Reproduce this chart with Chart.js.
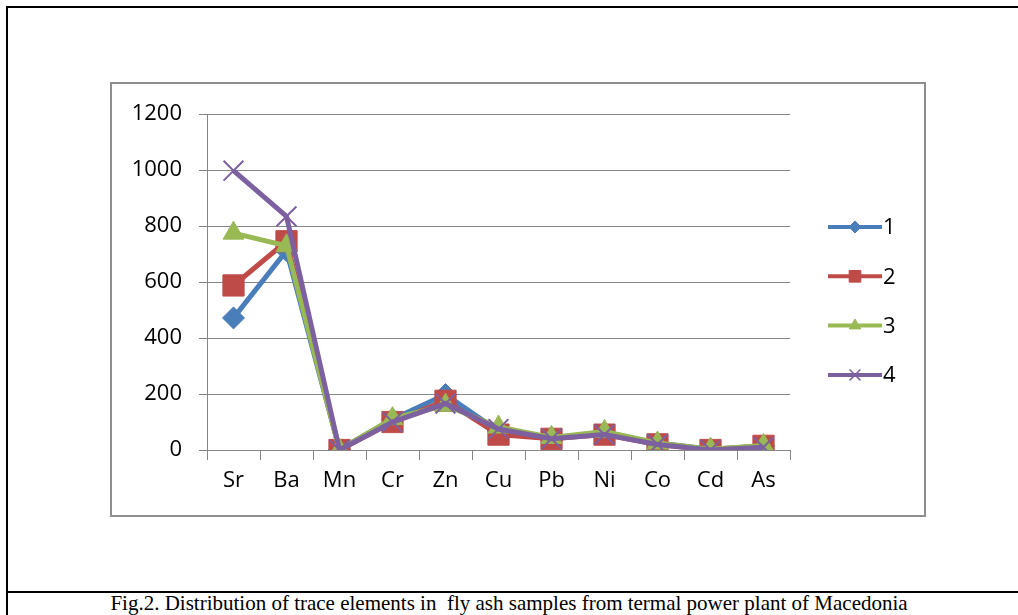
<!DOCTYPE html>
<html>
<head>
<meta charset="utf-8">
<script src="https://cdn.jsdelivr.net/npm/chart.js@4"></script>
<style>
  html, body { margin: 0; padding: 0; background: #fff; }
  body { width: 1018px; height: 615px; position: relative; overflow: hidden; }
  .frame-top { position: absolute; left: 6px; top: 6px; width: 1012px; height: 2px; background: #000; }
  .frame-left { position: absolute; left: 6px; top: 6px; width: 2px; height: 609px; background: #000; }
  .frame-mid { position: absolute; left: 6px; top: 591px; width: 1012px; height: 2px; background: #000; }
  .caption { position: absolute; left: 8px; top: 591px; width: 1002px; text-align: center;
             font-family: "Liberation Serif", "Times New Roman", serif; font-size: 21px; color: #000; white-space: pre; }
  .chart-box { position: absolute; left: 110px; top: 82px; width: 812px; height: 431px;
               border: 2px solid #8e8e8e; background: #fff; }
  canvas { display: block; }
</style>
</head>
<body>
<div class="frame-top"></div>
<div class="frame-left"></div>
<div class="frame-mid"></div>
<div class="chart-box"><canvas id="myChart" width="812" height="431"></canvas></div>
<div class="caption">Fig.2. Distribution of trace elements in  fly ash samples from termal power plant of Macedonia</div>

<script>
// elements on the x axis
const elements = ['Sr', 'Ba', 'Mn', 'Cr', 'Zn', 'Cu', 'Pb', 'Ni', 'Co', 'Cd', 'As'];

// sample values
const sample1 = [472, 712, 2, 110, 198, 68, 45, 60, 25, 3, 14];
const sample2 = [588, 746, 0, 100, 176, 55, 40, 55, 20, 0, 15];
const sample3 = [775, 730, 0, 112, 160, 82, 45, 66, 25, 3, 16];
const sample4 = [998, 835, 0, 100, 166, 75, 40, 55, 20, 0, 10];

const seriesNames = ['1', '2', '3', '4'];
const yTicks = [0, 200, 400, 600, 800, 1000, 1200];

const colors = ['#4a7ebb', '#be4b48', '#98b954', '#7d60a0'];
const markers = ['rectRot', 'rect', 'triangle', 'crossRot'];
const markerSize = [11, 15, 12, 14];

const FONT = '"Open Sans", "Liberation Sans", sans-serif';

const makeSet = (i, data) => ({
  label: seriesNames[i],
  data: data,
  order: 4 - i, // last series drawn on top, like excel
  borderColor: colors[i],
  backgroundColor: colors[i],
  borderWidth: 5,
  pointStyle: markers[i],
  pointRadius: markerSize[i],
  pointBorderWidth: markers[i] === 'crossRot' ? 2 : 1,
  pointBorderColor: colors[i],
  pointBackgroundColor: colors[i],
  tension: 0,
});

// legend like the excel one: short line with marker in the middle
const sideLegend = {
  id: 'sideLegend',
  afterDraw(chart) {
    const ctx = chart.ctx;
    chart.data.datasets.forEach((ds, i) => {
      const y = 143 + i * 49.3;
      ctx.save();
      ctx.strokeStyle = ds.borderColor;
      ctx.fillStyle = ds.backgroundColor;
      ctx.lineWidth = 4;
      ctx.beginPath();
      ctx.moveTo(716, y);
      ctx.lineTo(770, y);
      ctx.stroke();
      ctx.lineWidth = ds.pointStyle === 'crossRot' ? 1.5 : 1;
      Chart.helpers.drawPoint(ctx, { pointStyle: ds.pointStyle, radius: ds.pointRadius * 0.55, rotation: 0, borderWidth: 1 }, 743, y);
      ctx.fillStyle = '#000';
      ctx.font = '22px ' + FONT;
      ctx.textBaseline = 'middle';
      ctx.textAlign = 'left';
      ctx.fillText(ds.label, 771, y + 1);
      ctx.restore();
    });
  }
};

const ctx = document.getElementById('myChart').getContext('2d');
new Chart(ctx, {
  type: 'line',
  data: {
    labels: elements,
    datasets: [makeSet(0, sample1), makeSet(1, sample2), makeSet(2, sample3), makeSet(3, sample4)],
  },
  options: {
    responsive: false,
    animation: false,
    layout: { padding: { top: 28, right: 134, left: 0, bottom: 0 } },
    plugins: { legend: { display: false }, tooltip: { enabled: false } },
    scales: {
      x: {
        type: 'category',
        offset: true,
        grid: { offset: true, drawOnChartArea: false, drawTicks: true, tickLength: 10, color: '#868686' },
        border: { display: true, color: '#868686', width: 1 },
        ticks: { color: '#000', font: { family: FONT, size: 22 }, padding: 8, maxRotation: 0, autoSkip: false },
        afterFit(scale) { scale.height = 65; },
      },
      y: {
        min: 0,
        max: 1200,
        afterBuildTicks(scale) { scale.ticks = yTicks.map(v => ({ value: v })); },
        grid: { color: '#868686', lineWidth: 1, drawTicks: true, tickLength: 8 },
        border: { display: true, color: '#868686', width: 1 },
        ticks: { color: '#000', font: { family: FONT, size: 22 }, padding: 17, callback: v => String(v) },
        afterFit(scale) { scale.width = 95; },
      },
    },
  },
  plugins: [sideLegend],
});
</script>
</body>
</html>
